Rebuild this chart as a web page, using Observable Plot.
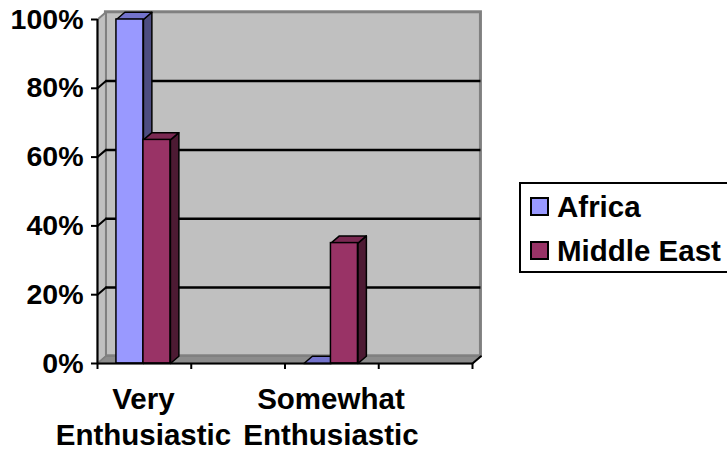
<!DOCTYPE html>
<html>
<head>
<meta charset="utf-8">
<script src="https://cdn.jsdelivr.net/npm/d3@7"></script>
<script src="https://cdn.jsdelivr.net/npm/@observablehq/plot@0.6"></script>
<style>
  html, body { margin: 0; padding: 0; background: #fff; }
  #wrap { position: relative; width: 727px; height: 449px; overflow: hidden;
          font-family: "Liberation Sans", Arial, sans-serif; font-weight: bold; }
  #legend { position: absolute; left: 519px; top: 182px; width: 220px; height: 91px;
            border: 2px solid #000; box-sizing: border-box; background: #fff; }
  .item { position: absolute; left: 9px; display: flex; align-items: center;
          font-size: 29.5px; line-height: 1; color: #000; white-space: nowrap; }
  .sw { width: 15px; height: 15px; border: 2px solid #000; margin-right: 8px; box-sizing: content-box; }
</style>
</head>
<body>
<div id="wrap"></div>
<script>
// ---- data ----
const categories = ["Very Enthusiastic", "", "Somewhat Enthusiastic", ""];
const seriesNames = ["Africa", "Middle East"];
const africa = [1.00, null, 0.00, null];
const middleEast = [0.65, null, 0.35, null];
const yTicks = [0, 0.2, 0.4, 0.6, 0.8, 1.0];
const seriesColors = {
  "Africa": {front: "#9999FF", top: "#7373CC", side: "#4D4D80"},
  "Middle East": {front: "#993366", top: "#7A2952", side: "#4D1A33"}
};

// ---- geometry (styles) ----
const DX = 0.09, DY = 0.021, BW = 0.288, CENTER = 0.49;
const N = categories.length;

const bars = [];
[africa, middleEast].forEach((vals, s) => {
  vals.forEach((v, i) => {
    if (v == null) return;
    const x1 = i + CENTER - BW + s * BW, x2 = x1 + BW;
    bars.push({series: seriesNames[s], i, v, x1, x2});
  });
});
const poly = (id, pts, extra = {}) => pts.map(([x, y]) => ({id, x, y, ...extra}));
const sides = [], tops = [];
bars.forEach((b, k) => {
  sides.push(...poly("s" + k, [[b.x2, 0], [b.x2, b.v], [b.x2 + DX, b.v + DY], [b.x2 + DX, DY]], {series: b.series}));
  tops.push(...poly("t" + k, [[b.x1, b.v], [b.x2, b.v], [b.x2 + DX, b.v + DY], [b.x1 + DX, b.v + DY]], {series: b.series}));
});
const leftWall = poly("lw", [[0, 0], [DX, DY], [DX, 1 + DY], [0, 1]]);
const floor = poly("fl", [[0, 0], [N, 0], [N + DX, DY], [DX, DY]]);
const grid = yTicks.filter(t => t > 0 && t < 1);
const gridDiag = grid.flatMap(t => poly("g" + t, [[0, t], [DX, t + DY]]));

const labelRows = categories.map((c, i) => ({i, c})).filter(d => d.c);
const line1 = labelRows.map(d => ({x: d.i + CENTER, t: d.c.split(" ")[0]}));
const line2 = labelRows.map(d => ({x: d.i + CENTER, t: d.c.split(" ").slice(1).join(" ")}));

const chart = Plot.plot({
  width: 727, height: 449,
  marginLeft: 97, marginRight: 255, marginTop: 19, marginBottom: 86,
  style: {fontFamily: "'Liberation Sans', Arial, sans-serif", fontWeight: "bold", fontSize: "28.5px", color: "#000", background: "transparent", overflow: "visible"},
  x: {domain: [0, N], axis: null},
  y: {domain: [0, 1], axis: null},
  marks: [
    // back wall
    Plot.rect([{}], {x1: DX, x2: N + DX, y1: DY, y2: 1 + DY, fill: "#C0C0C0", stroke: "#808080", strokeWidth: 3}),
    // left wall
    Plot.line(leftWall, {x: "x", y: "y", z: "id", curve: "linear-closed", fill: "#C0C0C0", stroke: "#808080", strokeWidth: 2}),
    // floor
    Plot.line(floor, {x: "x", y: "y", z: "id", curve: "linear-closed", fill: "#8C8C8C", stroke: "#808080", strokeWidth: 1.5}),
    // gridlines
    Plot.ruleY(grid, {x1: DX, x2: N + DX, y: d => d + DY, stroke: "#000", strokeWidth: 2.5}),
    Plot.line(gridDiag, {x: "x", y: "y", z: "id", stroke: "#000", strokeWidth: 2}),
    // bars: sides, tops, fronts
    Plot.line(sides, {x: "x", y: "y", z: "id", curve: "linear-closed", fill: d => seriesColors[d.series].side, stroke: "#000", strokeWidth: 1.5}),
    Plot.line(tops, {x: "x", y: "y", z: "id", curve: "linear-closed", fill: d => seriesColors[d.series].top, stroke: "#000", strokeWidth: 1.5}),
    Plot.rect(bars, {x1: "x1", x2: "x2", y1: 0, y2: "v", fill: d => seriesColors[d.series].front, stroke: "#000", strokeWidth: 1.5}),
    // axes lines
    Plot.ruleX([0], {y1: 0, y2: 1, stroke: "#000", strokeWidth: 2}),
    Plot.ruleY([0], {x1: 0, x2: N, stroke: "#000", strokeWidth: 2}),
    Plot.line(poly("fr", [[N, 0], [N + DX, DY]]), {x: "x", y: "y", z: "id", stroke: "#000", strokeWidth: 2}),
    Plot.axisY({ticks: yTicks, tickFormat: d3.format(".0%"), tickSize: 6, tickPadding: 8, tickWidth: 2, fontSize: 28.5, strokeWidth: 2}),
    Plot.axisX({ticks: d3.range(N + 1), tickFormat: () => "", tickSize: 6, strokeWidth: 2}),
    Plot.text(line1, {x: "x", y: 0, text: "t", lineAnchor: "bottom", dy: 45, fontSize: 29.5, fontWeight: "bold", fill: "#000"}),
    Plot.text(line2, {x: "x", y: 0, text: "t", lineAnchor: "bottom", dy: 81, fontSize: 29.5, fontWeight: "bold", fill: "#000"})
  ]
});

const wrap = document.getElementById("wrap");
wrap.appendChild(chart);

const legend = document.createElement("div");
legend.id = "legend";
seriesNames.forEach((name, k) => {
  const it = document.createElement("div");
  it.className = "item";
  it.style.top = (7.6 + k * 44.5) + "px";
  const sw = document.createElement("span");
  sw.className = "sw";
  sw.style.background = seriesColors[name].front;
  it.appendChild(sw);
  it.appendChild(document.createTextNode(name));
  legend.appendChild(it);
});
wrap.appendChild(legend);
</script>
</body>
</html>
